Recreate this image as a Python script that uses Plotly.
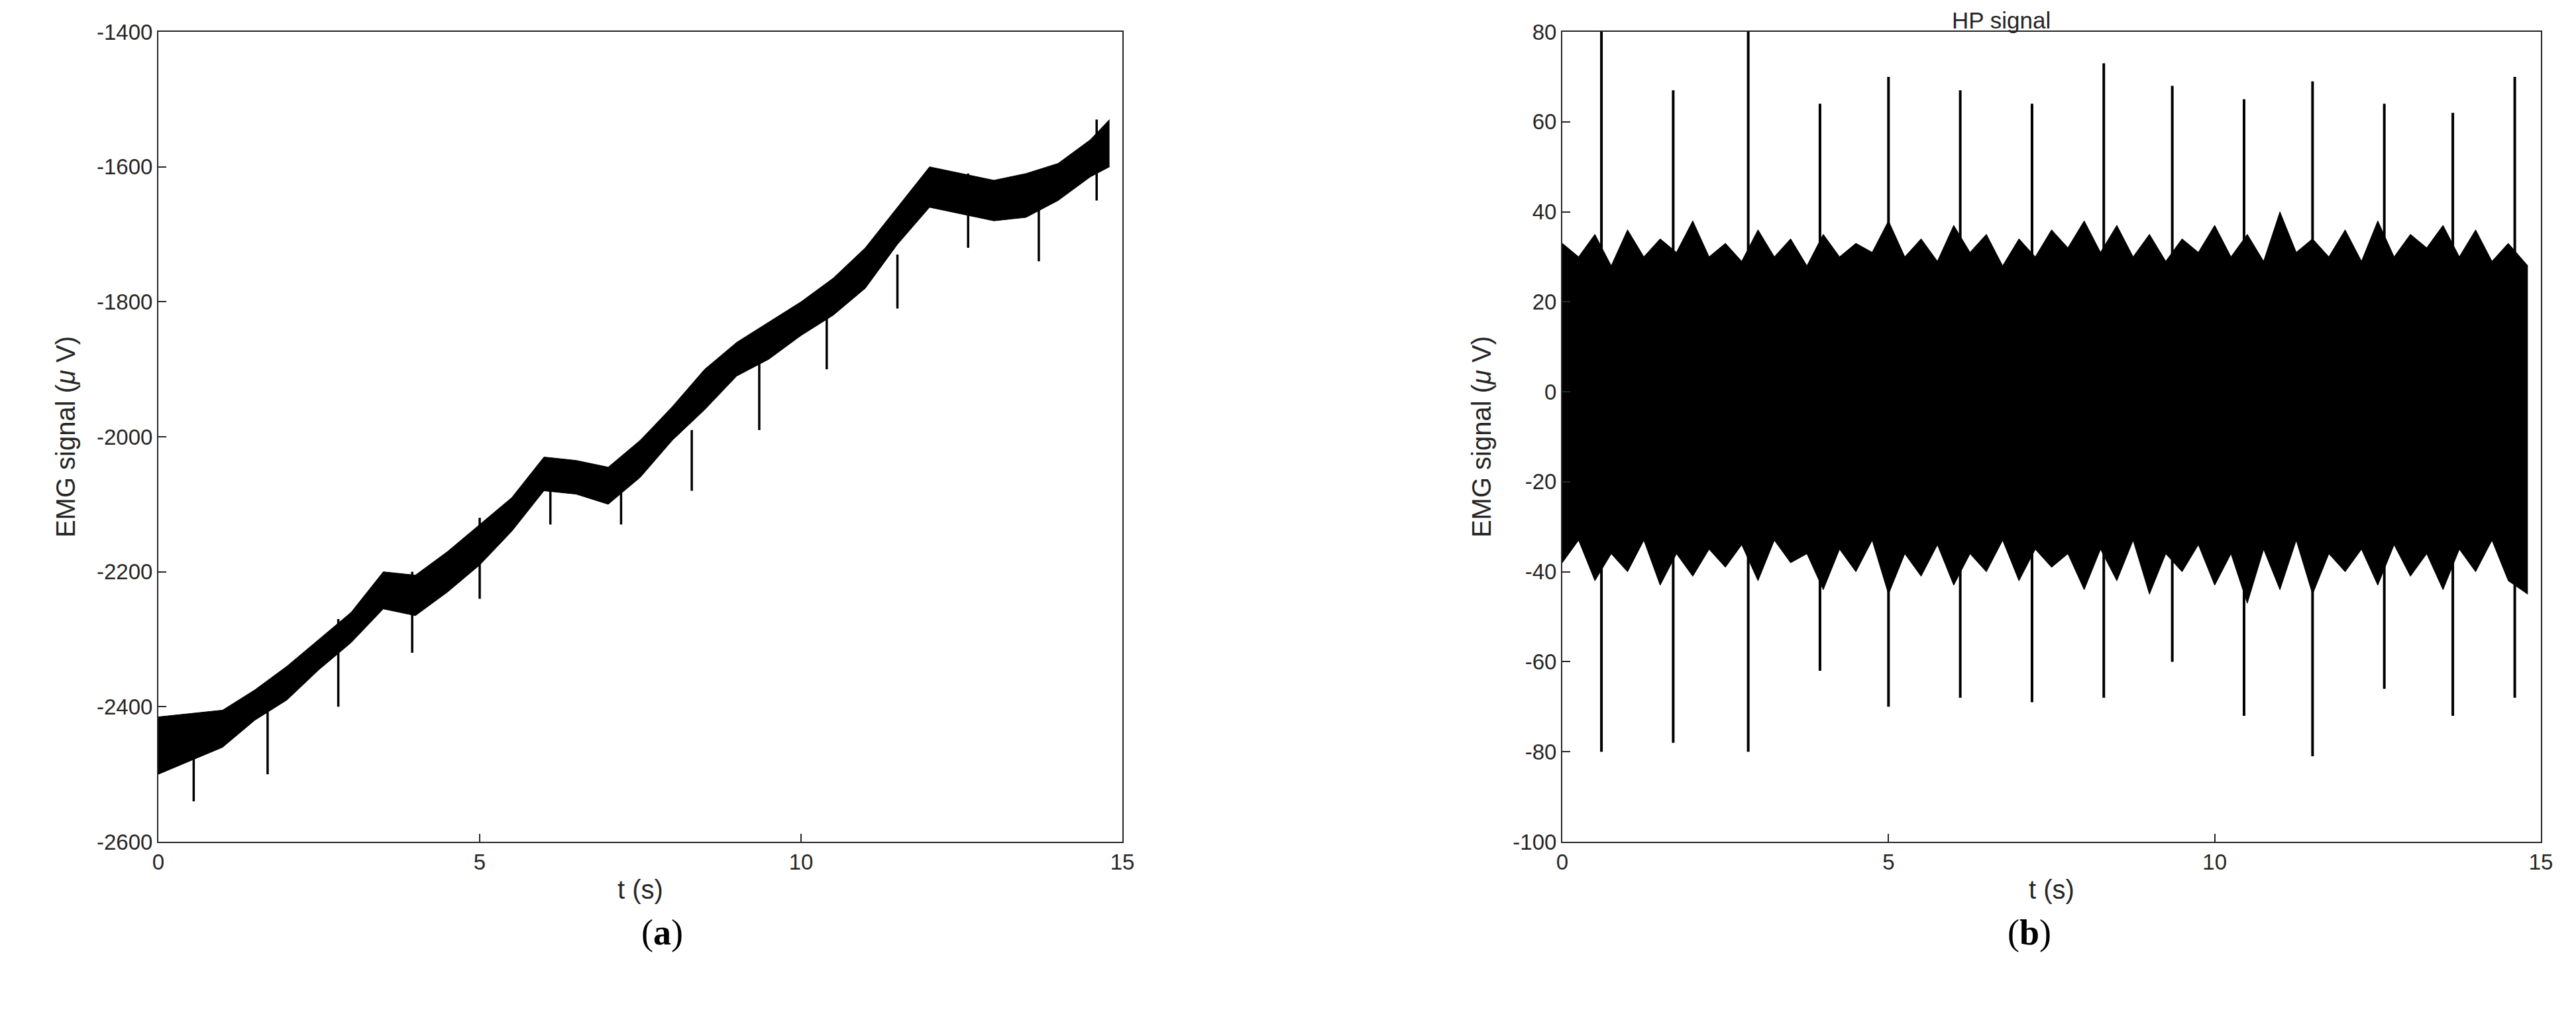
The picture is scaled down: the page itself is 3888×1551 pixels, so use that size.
import plotly.graph_objects as go

# ---- panel (a): raw EMG envelope ----
ta = [0,0.5,1,1.5,2,2.5,3,3.5,4,4.5,5,5.5,6,6.5,7,7.5,8,8.5,9,9.5,10,10.5,11,11.5,12,12.5,13,13.5,14,14.5,14.8]
a_up = [-2415,-2410,-2405,-2375,-2340,-2300,-2260,-2200,-2205,-2170,-2130,-2090,-2030,-2035,-2045,-2005,-1955,-1900,-1860,-1830,-1800,-1765,-1720,-1660,-1600,-1610,-1620,-1610,-1595,-1560,-1530]
a_lo = [-2500,-2480,-2460,-2420,-2390,-2345,-2305,-2255,-2265,-2230,-2190,-2140,-2080,-2085,-2100,-2060,-2005,-1960,-1910,-1885,-1850,-1820,-1780,-1715,-1660,-1670,-1680,-1675,-1650,-1615,-1600]
a_spk_t = [0.55,1.7,2.8,3.95,5.0,6.1,7.2,8.3,9.35,10.4,11.5,12.6,13.7,14.6]
a_spk_lo = [-2540,-2500,-2400,-2320,-2240,-2130,-2130,-2080,-1990,-1900,-1810,-1720,-1740,-1650]
a_spk_hi = [-2410,-2370,-2270,-2200,-2120,-2040,-2040,-1990,-1860,-1790,-1730,-1610,-1610,-1530]
a_yticks = [-2600,-2400,-2200,-2000,-1800,-1600,-1400]

# ---- panel (b): high-pass signal envelope ----
tb = [0,0.25,0.5,0.75,1,1.25,1.5,1.75,2,2.25,2.5,2.75,3,3.25,3.5,3.75,4,4.25,4.5,4.75,5,5.25,5.5,5.75,6,6.25,6.5,6.75,7,7.25,7.5,7.75,8,8.25,8.5,8.75,9,9.25,9.5,9.75,10,10.25,10.5,10.75,11,11.25,11.5,11.75,12,12.25,12.5,12.75,13,13.25,13.5,13.75,14,14.25,14.5,14.8]
b_up = [33,30,35,28,36,30,34,31,38,30,33,29,36,30,34,28,35,30,33,31,38,30,34,29,37,31,35,28,34,30,36,32,38,31,37,30,35,29,34,31,37,30,35,29,40,31,34,30,36,29,38,30,35,32,37,30,36,29,33,28]
b_lo = [-38,-33,-42,-36,-40,-33,-43,-36,-41,-35,-39,-34,-42,-33,-38,-36,-44,-35,-40,-33,-45,-36,-41,-34,-43,-36,-40,-33,-42,-35,-39,-36,-44,-35,-42,-33,-45,-36,-40,-34,-43,-36,-47,-35,-44,-33,-45,-36,-40,-35,-43,-34,-41,-36,-44,-35,-40,-33,-42,-45]
b_spk_t = [0.6,1.7,2.85,3.95,5.0,6.1,7.2,8.3,9.35,10.45,11.5,12.6,13.65,14.6]
b_spk_hi = [80,67,80,64,70,67,64,73,68,65,69,64,62,70]
b_spk_lo = [-80,-78,-80,-62,-70,-68,-69,-68,-60,-72,-81,-66,-72,-68]
b_yticks = [-100,-80,-60,-40,-20,0,20,40,60,80]

def spikes(ts, lo, hi):
    xs, ys = [], []
    for t, l, h in zip(ts, lo, hi):
        xs += [t, t, None]; ys += [l, h, None]
    return xs, ys

fig = go.Figure()
K = "black"
fig.add_trace(go.Scatter(x=ta, y=a_lo, mode="lines", line=dict(color=K, width=1), xaxis="x", yaxis="y"))
fig.add_trace(go.Scatter(x=ta, y=a_up, mode="lines", line=dict(color=K, width=1), fill="tonexty", fillcolor=K, xaxis="x", yaxis="y"))
sx, sy = spikes(a_spk_t, a_spk_lo, a_spk_hi)
fig.add_trace(go.Scatter(x=sx, y=sy, mode="lines", line=dict(color=K, width=3.5), xaxis="x", yaxis="y"))

fig.add_trace(go.Scatter(x=tb, y=b_lo, mode="lines", line=dict(color=K, width=1), xaxis="x2", yaxis="y2"))
fig.add_trace(go.Scatter(x=tb, y=b_up, mode="lines", line=dict(color=K, width=1), fill="tonexty", fillcolor=K, xaxis="x2", yaxis="y2"))
sx, sy = spikes(b_spk_t, b_spk_lo, b_spk_hi)
fig.add_trace(go.Scatter(x=sx, y=sy, mode="lines", line=dict(color=K, width=4), xaxis="x2", yaxis="y2"))

W, H = 3888, 1551
axcommon = dict(showgrid=False, zeroline=False, showline=True, linecolor="#262626", linewidth=2,
                mirror=True, ticks="inside", ticklen=12, tickwidth=2, tickcolor="#262626",
                automargin=False, tickfont=dict(size=33, color="#262626"))
def lab(v): return [str(x) for x in v]
fig.update_layout(
    width=W, height=H, showlegend=False, paper_bgcolor="white", plot_bgcolor="white",
    font=dict(family="Liberation Sans, Arial", size=33, color="#262626"),
    margin=dict(l=0, r=0, t=0, b=0),
    xaxis=dict(domain=[231/W, 1686/W], range=[0, 15], dtick=5, anchor="y",
               title=dict(text="t (s)", standoff=10), **axcommon),
    yaxis=dict(domain=[1-1262/H, 1-40/H], range=[-2600, -1400], tickvals=a_yticks, ticktext=lab(a_yticks), anchor="x",
               title=dict(text="EMG signal (<i>μ</i> V)", standoff=20), **axcommon),
    xaxis2=dict(domain=[2350/W, 3827/W], range=[0, 15], dtick=5, anchor="y2",
                title=dict(text="t (s)", standoff=10), **axcommon),
    yaxis2=dict(domain=[1-1262/H, 1-40/H], range=[-100, 80], tickvals=b_yticks, ticktext=lab(b_yticks), anchor="x2",
                title=dict(text="EMG signal (<i>μ</i> V)", standoff=20), **axcommon),
    annotations=[
        dict(text="HP signal", x=(2350+3827)/2/W, y=1-44/H, xref="paper", yref="paper", yanchor="bottom",
             showarrow=False, font=dict(size=35, color="#262626")),
        dict(text="(<b>a</b>)", x=958/W, y=1-1431/H, xref="paper", yref="paper", showarrow=False,
             font=dict(family="Liberation Serif", size=54, color="black")),
        dict(text="(<b>b</b>)", x=3090/W, y=1-1431/H, xref="paper", yref="paper", showarrow=False,
             font=dict(family="Liberation Serif", size=54, color="black")),
    ],
)
fig.write_html("out.html")
